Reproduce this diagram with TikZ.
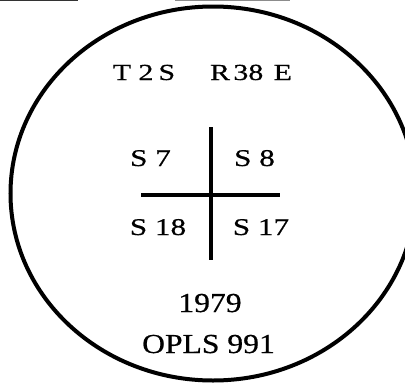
\documentclass[tikz,border=0pt]{standalone}
\usepackage{fontspec}
\setmainfont{Liberation Serif}
\newfontfamily\wfa[FakeStretch=1.3,FakeBold=0.6]{Liberation Serif}
\newfontfamily\wfb[FakeStretch=1.15,FakeBold=0.6]{Liberation Serif}
\begin{document}
\begin{tikzpicture}[x=1pt,y=-1pt,
  lbl/.style={inner sep=0pt,anchor=base,text=black},
  toprow/.style={lbl,font=\wfa\fontsize{23}{23}\selectfont},
  midrow/.style={lbl,font=\wfa\fontsize{24}{24}\selectfont},
  botrow/.style={lbl,font=\wfb\fontsize{27.5}{27.5}\selectfont},
  rim/.style={line width=4pt,black},
  bar/.style={line width=4.2pt,black},
  scanline/.style={line width=1.2pt}]
\useasboundingbox (0,0) rectangle (405,384);
% scan border at top
\draw[scanline,black!80] (0,0.6) -- (78,0.6);
\draw[scanline,black!45] (175,0.6) -- (290,0.6);
% outline
\draw[rim] (213,193.5) ellipse [x radius=202.5, y radius=187];
% texts
\node[toprow] (t2s) at (144,80) {T\hspace{0.32em}2\hspace{0.22em}S};
\node[toprow] (r38e) at (251,80) {R\hspace{0.15em}38\hspace{0.45em}E};
\node[midrow] (s7) at (150.5,166) {S 7};
\node[midrow] (s8) at (254.5,166) {S 8};
\node[midrow] (s18) at (158,235) {S 18};
\node[midrow] (s17) at (261,235) {S 17};
\node[botrow] (year) at (210,312) {1979};
\node[botrow] (opls) at (208.5,353) {OPLS 991};
% cross
\coordinate (vtop) at (211,127);
\coordinate (vbot) at (211,260);
\coordinate (hl) at (141,195);
\coordinate (hr) at (280,195);
\draw[bar] (vtop) -- (vbot);
\draw[bar] (hl) -- (hr);
\end{tikzpicture}
\end{document}
